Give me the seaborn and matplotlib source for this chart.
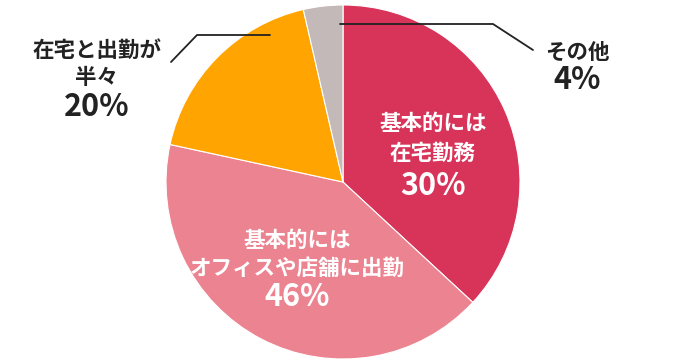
import matplotlib
matplotlib.use("Agg")
import matplotlib.pyplot as plt
import seaborn as sns

# categories and shares (wedge sizes, labels as printed)
categories = ["基本的には在宅勤務", "基本的にはオフィスや店舗に出勤", "在宅と出勤が半々", "その他"]
shares = [36.9, 41.5, 18.0, 3.6]
label_lines = [["基本的には", "在宅勤務"], ["基本的には", "オフィスや店舗に出勤"], ["在宅と出勤が", "半々"], ["その他"]]
pct_labels = ["30%", "46%", "20%", "4%"]
colors = ["#D83358", "#EC8390", "#FFA400", "#C4B9B9"]

sns.set_theme(style="white")
plt.rcParams["font.family"] = ["Noto Sans CJK JP", "DejaVu Sans"]

W, H = 680, 363
fig = plt.figure(figsize=(W / 100, H / 100), dpi=100)
cx, cy, r = 343, 182, 177
ax = fig.add_axes([(cx - r) / W, (H - cy - r) / H, 2 * r / W, 2 * r / H])
ax.pie(shares, colors=colors, startangle=90, counterclock=False,
       wedgeprops=dict(edgecolor="white", linewidth=0.8))
ax.set_xlim(-1, 1)
ax.set_ylim(-1, 1)
ax.set_aspect("equal")
ax.axis("off")


def fx(px):
    return px / W


def fy(py):
    return 1 - py / H


# label positions in pixels: (x, line ys, pct y, colour)
label_pos = [
    (433, [123, 153], 186, "white"),
    (297, [240, 268], 297, "white"),
    (97, [50, 78], 107, "#222222"),
    (577, [52], 80, "#222222"),
]
for lines, pct, (x, ys, py, col) in zip(label_lines, pct_labels, label_pos):
    for txt, y in zip(lines, ys):
        fig.text(fx(x), fy(y), txt, ha="center", va="center", color=col,
                 fontsize=15.5, fontweight="bold")
    fig.text(fx(x), fy(py), pct, ha="center", va="center", color=col,
             fontsize=22, fontweight="bold")

# leader lines
for xs, ys in [([340, 493, 533], [24, 24, 50]), ([270, 197, 171], [35, 35, 62])]:
    fig.add_artist(plt.Line2D([fx(v) for v in xs], [fy(v) for v in ys],
                              color="#222222", linewidth=1.3))

fig.savefig("out.png", dpi=100)
